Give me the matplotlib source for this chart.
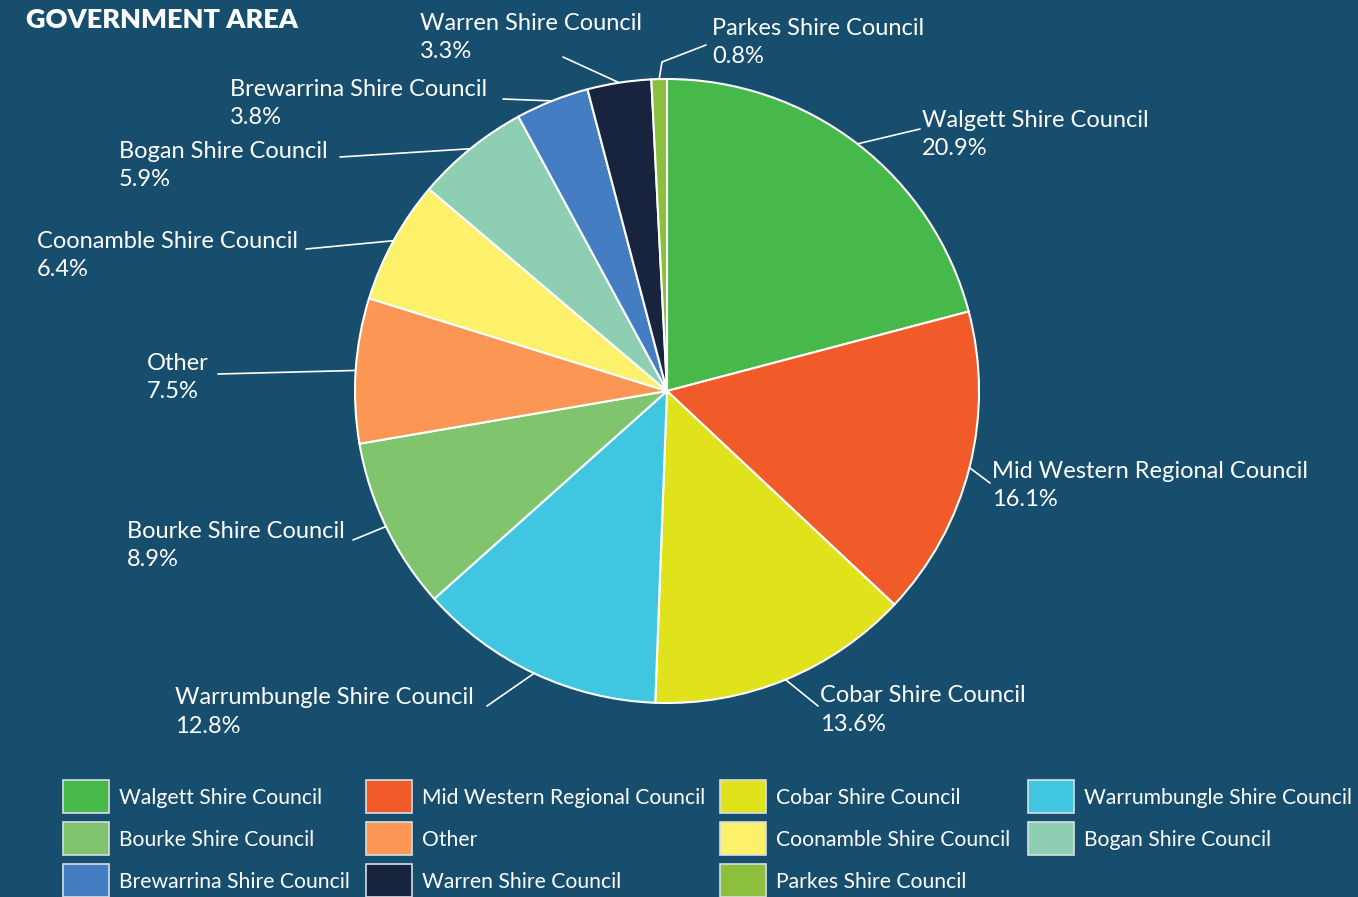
import numpy as np
import matplotlib
matplotlib.use("Agg")
import matplotlib.pyplot as plt
from matplotlib.patches import Rectangle

# ---- data ----
categories = ["Walgett Shire Council", "Mid Western Regional Council", "Cobar Shire Council",
              "Warrumbungle Shire Council", "Bourke Shire Council", "Other",
              "Coonamble Shire Council", "Bogan Shire Council", "Brewarrina Shire Council",
              "Warren Shire Council", "Parkes Shire Council"]
shares = [20.9, 16.1, 13.6, 12.8, 8.9, 7.5, 6.4, 5.9, 3.8, 3.3, 0.8]
colors = ["#47b94a", "#f15a29", "#e0e31b", "#41c6e2", "#80c56e", "#fb9655",
          "#fdf06a", "#8ecfb3", "#447dc2", "#18243e", "#8dbf3f"]
title = "GOVERNMENT AREA"

# ---- layout (pixel coords, y from top) ----
W, H = 1358, 897
BG = "#174e6d"
CX, CY, R = 667, 391, 312
# text left x, name-line centre y, leader end x, leader end y, optional elbow
label_layout = {
    "Walgett Shire Council": (922, 120, 920, 129, None),
    "Mid Western Regional Council": (992, 471, 990, 483, None),
    "Cobar Shire Council": (820, 696, 818, 706, None),
    "Warrumbungle Shire Council": (175, 698, 487, 706, None),
    "Bourke Shire Council": (127, 531, 353, 540, None),
    "Other": (147, 363, 218, 374, None),
    "Coonamble Shire Council": (37, 241, 306, 249, None),
    "Bogan Shire Council": (119, 151, 340, 157, None),
    "Brewarrina Shire Council": (230, 89, 503, 99, None),
    "Warren Shire Council": (420, 23, 563, 57, None),
    "Parkes Shire Council": (712, 28, 706, 45, (662, 62)),
}
legend_cols_x = [63, 366, 720, 1028]
legend_rows_y = [797, 839, 881]

fig = plt.figure(figsize=(W / 100, H / 100), dpi=100, facecolor=BG)
ax = fig.add_axes([0, 0, 1, 1])
ax.set_facecolor(BG)

def Y(py):
    return H - py

wedges, _ = ax.pie(shares, colors=colors, startangle=90, counterclock=False,
                   center=(CX, Y(CY)), radius=R,
                   wedgeprops=dict(edgecolor="white", linewidth=1.5))
ax.set_xlim(0, W)
ax.set_ylim(0, H)
ax.set_aspect("equal")
ax.axis("off")

font = ["Lato", "DejaVu Sans"]
fs = 17
for w, name, val in zip(wedges, categories, shares):
    ang = np.deg2rad((w.theta1 + w.theta2) / 2)
    sx = CX + R * np.cos(ang)
    sy = Y(CY) + R * np.sin(ang)
    tx, ty, ex, ey, elbow = label_layout[name]
    xs, ys = [sx], [sy]
    if elbow is not None:
        xs.append(elbow[0]); ys.append(Y(elbow[1]))
    xs.append(ex); ys.append(Y(ey))
    ax.plot(xs, ys, color="white", lw=1.2, solid_capstyle="round")
    ax.text(tx, Y(ty), name, color="white", fontsize=fs, family=font,
            ha="left", va="center")
    ax.text(tx, Y(ty + 28.5), f"{val}%", color="white", fontsize=fs, family=font,
            ha="left", va="center")

ax.text(26, Y(20), title, color="white", fontsize=19.5, family=font,
        fontweight="heavy", ha="left", va="center")

# legend (row-major, 4 columns)
for i, (name, c) in enumerate(zip(categories, colors)):
    r, k = divmod(i, 4)
    x0 = legend_cols_x[k]
    yc = legend_rows_y[r]
    ax.add_patch(Rectangle((x0, Y(yc + 16.5)), 46, 33, facecolor=c,
                           edgecolor="#d8dde2", linewidth=1.2, clip_on=False))
    ax.text(x0 + 56, Y(yc + 1), name, color="white", fontsize=15.2, family=font,
            ha="left", va="center")

fig.savefig("out.png", dpi=100, facecolor=BG)
